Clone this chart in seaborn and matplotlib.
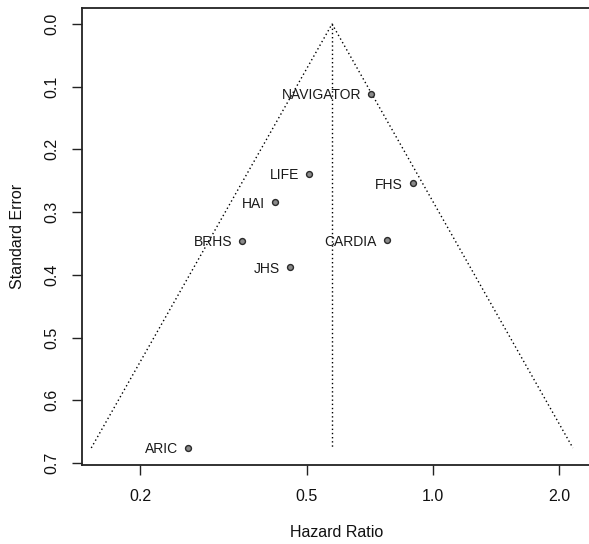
import numpy as np
import pandas as pd
import matplotlib
matplotlib.use("Agg")
import matplotlib.pyplot as plt
from matplotlib.ticker import NullLocator
import seaborn as sns

# ---- data ----
studies = ["NAVIGATOR", "LIFE", "FHS", "HAI", "BRHS", "CARDIA", "JHS", "ARIC"]
hazard_ratio = [0.711, 0.506, 0.896, 0.419, 0.350, 0.776, 0.455, 0.260]
std_error = [0.1116, 0.239, 0.2536, 0.284, 0.346, 0.3445, 0.3876, 0.676]
pooled_hr = 0.574
z_crit = 1.96

x_ticks = [0.2, 0.5, 1.0, 2.0]
x_tick_labels = ["0.2", "0.5", "1.0", "2.0"]
y_ticks = [0.0, 0.1, 0.2, 0.3, 0.4, 0.5, 0.6, 0.7]
y_tick_labels = ["0.0", "0.1", "0.2", "0.3", "0.4", "0.5", "0.6", "0.7"]

sns.set_theme(style="white")
plt.rcParams["font.family"] = ["Liberation Sans", "DejaVu Sans"]

W, H = 589, 544
fig = plt.figure(figsize=(W / 100, H / 100), dpi=100)
left_px, right_px, top_px, bottom_px = 81.5, 592, 7.5, 465
ax = fig.add_axes([left_px / W, (H - bottom_px) / H,
                   (right_px - left_px) / W, (bottom_px - top_px) / H])

df = pd.DataFrame({"study": studies, "hr": hazard_ratio, "se": std_error})

# funnel (pseudo confidence region) computed from pooled estimate
max_se = max(std_error)
se_path = np.array([max_se, 0.0, max_se])
sign = np.array([-1.0, 0.0, 1.0])
funnel = pd.DataFrame({
    "hr": np.exp(np.log(pooled_hr) + sign * z_crit * se_path),
    "se": se_path,
})
sns.lineplot(data=funnel, x="hr", y="se", sort=False, estimator=None,
             color="black", linewidth=1.0, ax=ax)
ax.lines[-1].set_dashes((1, 2.0))

center = pd.DataFrame({"hr": [pooled_hr, pooled_hr], "se": [0.0, max_se]})
sns.lineplot(data=center, x="hr", y="se", sort=False, estimator=None,
             color="black", linewidth=1.0, ax=ax)
ax.lines[-1].set_dashes((1, 2.0))

sns.scatterplot(data=df, x="hr", y="se", s=18, color="#8a8a8a",
                edgecolor="#2a2a2a", linewidth=1.0, ax=ax, zorder=3)

for _, r in df.iterrows():
    ax.annotate(r["study"], (r["hr"], r["se"]), xytext=(-10, 0),
                textcoords="offset pixels", ha="right", va="center_baseline",
                fontsize=10, color="#1a1a1a")

ax.set_xscale("log")
ax.set_xlim(0.1446, 2.399)
ax.set_ylim(0.7032, -0.0263)

ax.set_xticks(x_ticks)
ax.set_xticklabels(x_tick_labels)
ax.xaxis.set_minor_locator(NullLocator())
ax.set_yticks(y_ticks)
ax.set_yticklabels(y_tick_labels, rotation=90, va="center")

ax.tick_params(axis="both", which="major", bottom=True, left=True,
               direction="out", length=7.2, width=1.0, color="#222222",
               labelsize=11.5, labelcolor="#111111")
ax.tick_params(axis="x", pad=10)
ax.tick_params(axis="y", pad=9)

for side in ["left", "bottom", "top", "right"]:
    ax.spines[side].set_color("#222222")
    ax.spines[side].set_linewidth(1.3)

ax.set_xlabel("Hazard Ratio", fontsize=11.5, labelpad=15, color="#111111")
ax.set_ylabel("Standard Error", fontsize=11.5, labelpad=14, color="#111111")

fig.savefig("out.png", dpi=100)
